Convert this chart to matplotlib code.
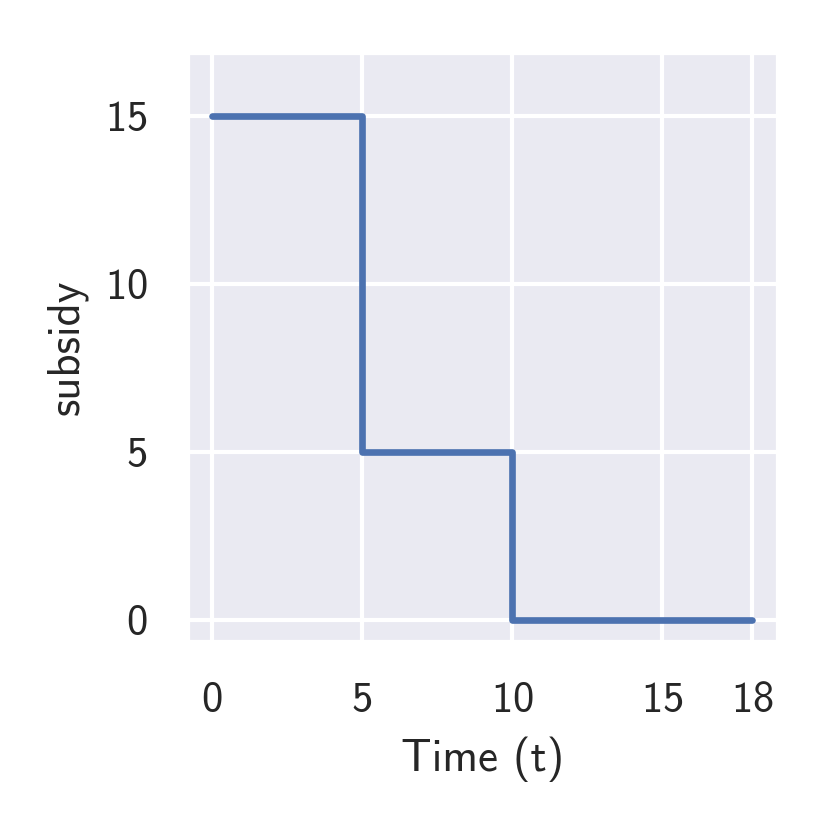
import numpy as np
import matplotlib
matplotlib.use('Agg')
import matplotlib.pyplot as plt
import seaborn as sns

# subsidy schedule over time (step function)
t = [0, 5, 10, 18]
subsidy = [15, 5, 0, 0]
xticks = [0, 5, 10, 15, 18]
yticks = [0, 5, 10, 15]

sns.set_theme(style='darkgrid', context='notebook')
plt.rcParams['font.family'] = ['cmss10', 'DejaVu Sans']
plt.rcParams['axes.formatter.use_mathtext'] = True
plt.rcParams['xtick.labelsize'] = 10.2
plt.rcParams['ytick.labelsize'] = 10.2
plt.rcParams['axes.labelsize'] = 10.8

fig = plt.figure(figsize=(830 / 300, 830 / 300), dpi=300)
ax = fig.add_axes([187 / 830, 1 - 642 / 830, (778 - 187) / 830, (642 - 52) / 830])
ax.step(t, subsidy, where='post', color='#4c72b0', linewidth=1.6, solid_capstyle='round', solid_joinstyle='round')

ax.set_xticks(xticks)
ax.set_yticks(yticks)
ax.set_xlim(-0.83, 18.87)
ax.set_ylim(-0.66, 16.91)
ax.set_xlabel('Time (t)')
ax.set_ylabel('subsidy')

fig.savefig('out.png', dpi=300)
